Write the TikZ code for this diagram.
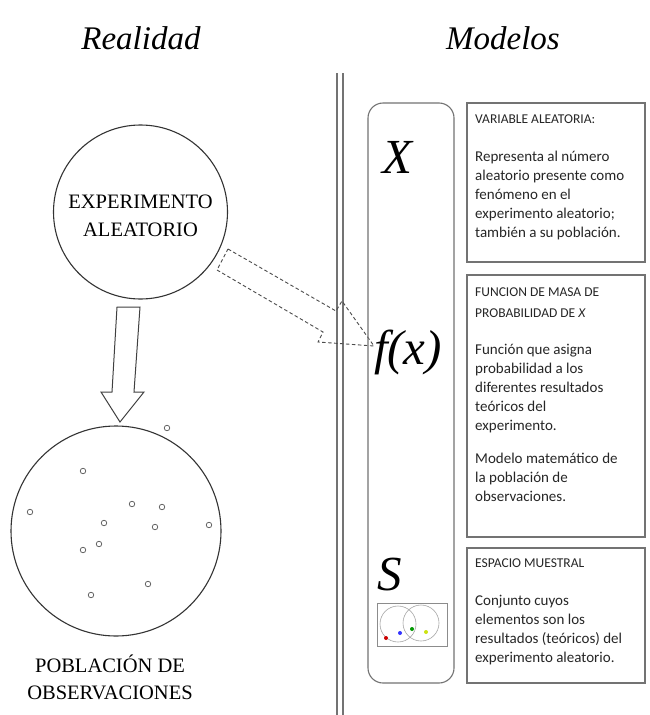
\documentclass[tikz,border=0pt]{standalone}
\usepackage{fontspec}
\setmainfont{Liberation Serif}
\newfontfamily\boxfont{Carlito}
\begin{document}
\begin{tikzpicture}[x=1pt,y=-1pt,
  line/.style={draw=black!75, line width=1pt},
  grayline/.style={draw=black!55, line width=1.1pt},
  title/.style={font=\fontsize{33}{36}\selectfont\itshape},
  bigcirc/.style={circle, draw=black!80, line width=1.1pt, inner sep=0pt},
  bigtext/.style={inner sep=0pt, align=center, font=\fontsize{20.5}{28}\selectfont},
  obs/.style={circle, draw=black!60, line width=0.8pt, inner sep=0pt, minimum size=5.5pt},
  head/.style={anchor=base west, inner sep=0pt, font=\boxfont\fontsize{13.5}{21}\selectfont, align=left, text=black!85},
  body/.style={anchor=base west, inner sep=0pt, font=\boxfont\fontsize{15}{19}\selectfont, align=left, text=black!85},
  sym/.style={inner sep=0pt, font=\fontsize{49}{50}\selectfont\itshape},
  vdot/.style={circle, fill=#1, inner sep=0pt, minimum size=4pt}]
\useasboundingbox (0,0) rectangle (649,715);
\fill[white] (0,0) rectangle (649,715);

% titles
\node[title] (treal) at (141,38) {Realidad};
\node[title] (tmod) at (503,38) {Modelos};

% double vertical line
\coordinate (v1t) at (337,73); \coordinate (v1b) at (337,715);
\coordinate (v2t) at (343,73); \coordinate (v2b) at (343,715);
\draw[grayline] (v1t) -- (v1b);
\draw[grayline] (v2t) -- (v2b);

% left side
\node[bigcirc, minimum size=174pt] (exp) at (140.5,212) {};
\node[bigtext] (expt) at (140.5,216) {EXPERIMENTO\\ALEATORIO};
\node[bigcirc, minimum size=210pt] (pob) at (116,531) {};
\node[bigtext, font=\fontsize{20.5}{27}\selectfont] (pobt) at (110,677) {POBLACIÓN DE\\OBSERVACIONES};

\foreach \i/\p in {1/{(167,428)},2/{(83,471)},3/{(30,512)},4/{(132,504)},5/{(162,507)},6/{(104,523)},7/{(155,527)},8/{(209,525)},9/{(99,544)},10/{(83,550)},11/{(148,584)},12/{(91,595)}}
  \node[obs] (o\i) at \p {};

% down arrow
\draw[line, line width=1pt, line join=miter] (117,307) -- (140,307) -- (134,392) -- (144,392) -- (120,422) -- (101,392) -- (112,392) -- cycle;

% dashed arrow
\draw[draw=black!70, line width=0.9pt, dashed, dash pattern=on 3.5pt off 2.5pt]
  (228,249) -- (336,311) -- (342,301) -- (374,346) -- (318,342) -- (323,332) -- (217,270) -- cycle;

% rounded model column
\draw[grayline, rounded corners=15pt] (368,103) rectangle (454,683);
\node[sym] (X) at (397,157) {X};
\node[sym, anchor=base] (fx) at (408,364) {f(x)};
\node[sym] (S) at (390,575) {S};

% venn box
\draw[draw=black!45, line width=0.7pt] (377,603) rectangle (447,646);
\draw[draw=black!35, line width=0.6pt] (398,624) circle (18);
\draw[draw=black!35, line width=0.6pt] (421,623) circle (18);
\node[vdot=red!80!black] (dr) at (386,638) {};
\node[vdot=blue!80] (db) at (400,633) {};
\node[vdot=green!60!black] (dg) at (412,629) {};
\node[vdot=yellow!80!green] (dy) at (426,632) {};

% text boxes
\draw[grayline] (467,103) rectangle (645,262);
\draw[grayline] (467,275) rectangle (645,537);
\draw[grayline] (467,548) rectangle (645,683);

% (base anchor of a multi-line node = baseline of its last line)
\node[head] (h1) at (475,123) {VARIABLE ALEATORIA:};
\node[body] (b1) at (475,237) {Representa al número\\aleatorio presente como\\fenómeno en el\\experimento aleatorio;\\también a su población.};

\node[head] (h2) at (475,317) {FUNCION DE MASA DE\\PROBABILIDAD DE \textit{X}};
\node[body] (b2) at (475,430) {Función que asigna\\probabilidad a los\\diferentes resultados\\teóricos del\\experimento.};
\node[body] (b2b) at (475,501) {Modelo matemático de\\la población de\\observaciones.};

\node[head] (h3) at (475,567) {ESPACIO MUESTRAL};
\node[body] (b3) at (475,662) {Conjunto cuyos\\elementos son los\\resultados (teóricos) del\\experimento aleatorio.};
\end{tikzpicture}
\end{document}
